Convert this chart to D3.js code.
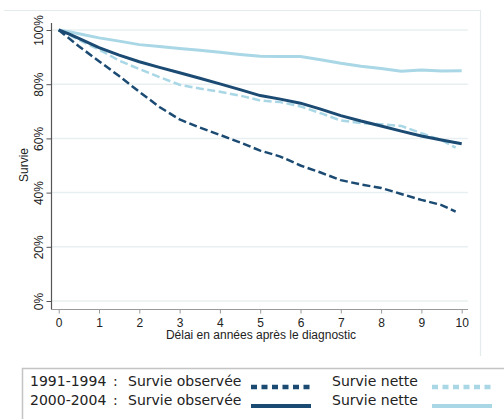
<!DOCTYPE html>
<html>
<head>
<meta charset="utf-8">
<script src="https://cdn.jsdelivr.net/npm/d3@7"></script>
<style>
body { margin: 0; background: #fff; }
svg { display: block; }
</style>
</head>
<body>
<svg width="504" height="419"></svg>
<script>
var svg = d3.select('svg');

// years after diagnosis
var years = [0, 0.25, 0.5, 1, 1.5, 2, 2.5, 3, 3.5, 4, 4.5, 5, 5.5, 6, 6.5, 7, 7.5, 8, 8.5, 9, 9.5, 10];

// survival (%)
var obs1991 = [100, 97, 94, 88.5, 83, 77.2, 71.6, 67, 64, 61.3, 58.5, 55.5, 53.3, 50, 47.4, 44.6, 43, 41.7, 39.5, 37.3, 35.4, null];
var net1991 = [100, 98.3, 96.3, 92.8, 88.7, 85.6, 82.6, 79.8, 78.4, 77.2, 75.8, 74, 73.4, 71.8, 69.3, 66.6, 65.7, 65.2, 64.6, 61.9, 59.3, null];
var obs2000 = [100, 98.6, 96.9, 93.5, 90.7, 88.3, 86.2, 84.2, 82.2, 80.1, 78, 75.8, 74.5, 73, 70.8, 68.4, 66.4, 64.6, 62.7, 60.9, 59.4, 58];
var net2000 = [100, 99.4, 98.6, 97.1, 95.9, 94.6, 93.9, 93.2, 92.5, 91.8, 91, 90.3, 90.2, 90.2, 89, 87.7, 86.6, 85.8, 84.8, 85.2, 84.9, 85];
// last point of the 1991-1994 curves (they stop a little before 10)
var lastT1991 = 9.85;
var lastObs1991 = 33;
var lastNet1991 = 56.6;

var xTicks = [0, 1, 2, 3, 4, 5, 6, 7, 8, 9, 10];
var yTicks = [0, 20, 40, 60, 80, 100];

var dark = '#1b4a72';
var light = '#a9d7e6';

var x = d3.scaleLinear().domain([0, 10]).range([58.7, 461.7]);
var y = d3.scaleLinear().domain([0, 100]).range([301, 30]);

// outer frame (top and right)
svg.append('path')
    .attr('d', 'M4,10.5H480.5V356')
    .attr('fill', 'none')
    .attr('stroke', '#e3ebec')
    .attr('stroke-width', 1.2);

// grid lines
svg.selectAll('.grid')
    .data(yTicks)
    .enter()
    .append('line')
    .attr('x1', 51)
    .attr('x2', 468)
    .attr('y1', function(d) { return y(d); })
    .attr('y2', function(d) { return y(d); })
    .attr('stroke', '#e8eff1')
    .attr('stroke-width', 1.5);

// y axis
var yAxis = d3.axisLeft(y)
    .tickValues(yTicks)
    .tickSize(5)
    .tickFormat(function(d) { return d + '%'; });
var gy = svg.append('g').attr('transform', 'translate(51.5,0)').call(yAxis);
gy.select('.domain').attr('d', 'M0,23V309').attr('stroke', '#555').attr('stroke-width', 1.2);
gy.selectAll('.tick line').attr('stroke', '#555');
gy.selectAll('.tick text')
    .attr('x', null).attr('dy', null)
    .attr('transform', 'translate(-9,0) rotate(-90)')
    .attr('text-anchor', 'middle')
    .attr('font-family', 'Liberation Sans, Arial, sans-serif')
    .attr('font-size', 12)
    .attr('fill', '#222');

// x axis
var xAxis = d3.axisBottom(x)
    .tickValues(xTicks)
    .tickSize(4);
var gx = svg.append('g').attr('transform', 'translate(0,309.5)').call(xAxis);
gx.select('.domain').attr('d', 'M51,0H468').attr('stroke', '#9a9a9a').attr('stroke-width', 1.2);
gx.selectAll('.tick line').attr('stroke', '#9a9a9a');
gx.selectAll('.tick text')
    .attr('y', 17).attr('dy', null)
    .attr('font-family', 'Liberation Sans, Arial, sans-serif')
    .attr('font-size', 12)
    .attr('fill', '#222');

// axis titles
svg.append('text')
    .attr('x', 261)
    .attr('y', 339)
    .attr('text-anchor', 'middle')
    .attr('font-family', 'Liberation Sans, Arial, sans-serif')
    .attr('font-size', 12)
    .attr('fill', '#222')
    .text('Délai en années après le diagnostic');

svg.append('text')
    .attr('transform', 'translate(28,165) rotate(-90)')
    .attr('text-anchor', 'middle')
    .attr('font-family', 'Liberation Sans, Arial, sans-serif')
    .attr('font-size', 12)
    .attr('fill', '#222')
    .text('Survie');

// curves
function toPoints(vals, lastT, lastV) {
    var pts = [];
    for (var i = 0; i < years.length; i++) {
        if (vals[i] != null) pts.push([years[i], vals[i]]);
    }
    if (lastT != null) pts.push([lastT, lastV]);
    return pts;
}

var line = d3.line()
    .x(function(d) { return x(d[0]); })
    .y(function(d) { return y(d[1]); });

var series = [
    {name: 'net2000', pts: toPoints(net2000), color: light, width: 3, dash: null},
    {name: 'net1991', pts: toPoints(net1991, lastT1991, lastNet1991), color: light, width: 2.5, dash: '8,3.5'},
    {name: 'obs2000', pts: toPoints(obs2000), color: dark, width: 3, dash: null},
    {name: 'obs1991', pts: toPoints(obs1991, lastT1991, lastObs1991), color: dark, width: 2.5, dash: '8,3.5'}
];

svg.selectAll('.curve')
    .data(series)
    .enter()
    .append('path')
    .attr('class', 'curve')
    .attr('d', function(d) { return line(d.pts); })
    .attr('fill', 'none')
    .attr('stroke', function(d) { return d.color; })
    .attr('stroke-width', function(d) { return d.width; })
    .attr('stroke-dasharray', function(d) { return d.dash; });

// legend
svg.append('rect')
    .attr('x', 22.5)
    .attr('y', 368.5)
    .attr('width', 500)
    .attr('height', 80)
    .attr('fill', '#fff')
    .attr('stroke', '#c4c4c4')
    .attr('stroke-width', 1.5);

var legendRows = [
    {label: '1991-1994', y: 386, dash: '6,4.5', w: 4.5},
    {label: '2000-2004', y: 405, dash: null, w: 4}
];

var lg = svg.selectAll('.leg')
    .data(legendRows)
    .enter()
    .append('g');

function legText(g, xx, fn) {
    g.append('text')
        .attr('x', xx)
        .attr('y', function(d) { return d.y; })
        .attr('font-family', 'DejaVu Sans, Verdana, sans-serif')
        .attr('font-size', 14)
        .attr('fill', '#222')
        .text(fn);
}
legText(lg, 30, function(d) { return d.label; });
legText(lg, 113, function() { return ':'; });
legText(lg, 128, function() { return 'Survie observée'; });
legText(lg, 332, function() { return 'Survie nette'; });

lg.append('line')
    .attr('x1', 251).attr('x2', 311)
    .attr('y1', function(d) { return d.y + 1; })
    .attr('y2', function(d) { return d.y + 1; })
    .attr('stroke', dark)
    .attr('stroke-width', function(d) { return d.w; })
    .attr('stroke-dasharray', function(d) { return d.dash; });

lg.append('line')
    .attr('x1', 432).attr('x2', 492)
    .attr('y1', function(d) { return d.y + 1; })
    .attr('y2', function(d) { return d.y + 1; })
    .attr('stroke', light)
    .attr('stroke-width', function(d) { return d.w; })
    .attr('stroke-dasharray', function(d) { return d.dash; });
</script>
</body>
</html>
